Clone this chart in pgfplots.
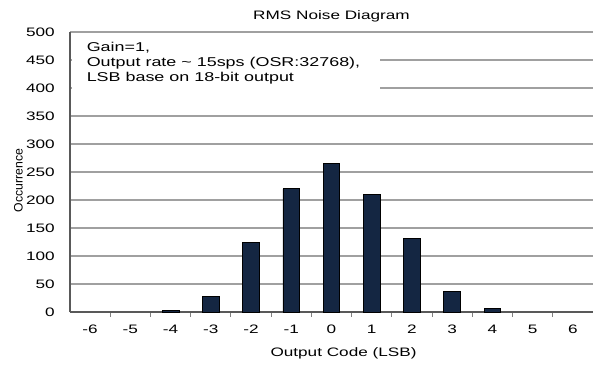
\documentclass[border=0pt]{standalone}
\usepackage{fontspec}
\setmainfont[FakeStretch=1.4]{Liberation Sans}
\newfontfamily\plainsans{Liberation Sans}
\usepackage{pgfplots}
\pgfplotsset{compat=1.18}
\definecolor{barnavy}{RGB}{20,38,66}
\definecolor{gridgray}{RGB}{160,160,160}

\begin{document}
\begin{tikzpicture}
\useasboundingbox (-52.5pt,-39.75pt) rectangle (392.25pt,234pt);
\begin{axis}[
  at={(0pt,0pt)}, anchor=south west,
  scale only axis, width=392.25pt, height=210pt,
  xmin=-6.5, xmax=6.5, ymin=0, ymax=500,
  axis lines*=left,
  axis line style={black!65, line width=0.8pt},
  ytick={0,50,...,500},
  xtick={-6,...,6},
  xticklabels={-6,-5,-4,-3,-2,-1,0,1,2,3,4,5,6},
  minor xtick={-5.5,-4.5,...,5.5},
  major tick length=0pt, minor tick length=3.5pt,
  tick align=inside,
  tick style={gray, line width=0.8pt},
  ymajorgrids,
  grid style={gridgray, line width=1pt},
  /pgf/number format/assume math mode=true,
  tick label style={font=\fontsize{9.2}{11}\selectfont},
  xticklabel style={anchor=base, yshift=-15.75pt},
  yticklabel style={anchor=east, inner sep=0pt, xshift=-11.25pt},
  title={RMS Noise Diagram},
  title style={at={(axis description cs:0.5,1)}, anchor=base, yshift=3.75pt, font=\fontsize{9.2}{11}\selectfont},
  xlabel={Output Code (LSB)},
  xlabel style={at={(axis description cs:0.523,0)}, anchor=base, yshift=-33pt, font=\fontsize{9.2}{11}\selectfont},
  ylabel={Occurrence},
  ylabel style={at={(axis description cs:0,0.47)}, anchor=base, yshift=35.5pt, font=\plainsans\fontsize{9.2}{11}\selectfont},
  ybar, bar width=12.5pt,
  clip=false,
]
% white patch hides the grid behind the note
\fill[white] (axis cs:-6.44,365) rectangle (axis cs:1.206,492);
\addplot[fill=barnavy, draw=black, line width=0.6pt] coordinates {
  (-4,3) (-3,28) (-2,124) (-1,220) (0,265) (1,210) (2,132) (3,36) (4,7)
};
\node[anchor=base west, font=\fontsize{9.6}{11}\selectfont] at (axis cs:-6.2,466) {Gain=1,};
\node[anchor=base west, font=\fontsize{9.6}{11}\selectfont] at (axis cs:-6.2,438) {Output rate \textasciitilde{} 15sps (OSR:32768),};
\node[anchor=base west, font=\fontsize{9.6}{11}\selectfont] at (axis cs:-6.2,411) {LSB base on 18-bit output};
\end{axis}
\end{tikzpicture}
\end{document}
